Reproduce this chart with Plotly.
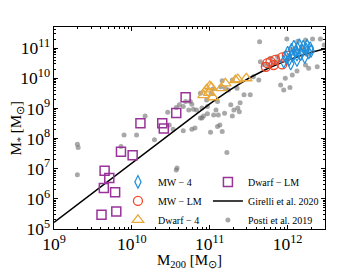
import plotly.graph_objects as go

# ---------------- data (log10 values) ----------------
dwarf_lm_mh = [9.61, 9.80, 9.64, 9.785, 9.65, 9.71, 9.86, 10.01, 10.11, 10.39, 10.41, 10.57, 10.69]
dwarf_lm_ms = [5.47, 5.58, 6.36, 6.22, 6.93, 6.69, 7.56, 7.45, 8.51, 8.51, 8.33, 8.85, 9.37]

dwarf4_mh = [10.92, 10.96, 11.00, 11.02, 10.99, 11.04, 11.15, 11.20, 11.33, 11.36, 11.47]
dwarf4_ms = [9.44, 9.63, 9.74, 9.70, 9.52, 9.37, 9.67, 9.83, 9.94, 9.97, 10.00]

mwlm_mh = [11.72, 11.74, 11.82, 11.84, 11.93, 11.93, 11.99, 11.78]
mwlm_ms = [10.38, 10.50, 10.44, 10.61, 10.69, 10.46, 10.75, 10.55]

mw4_mh = [11.95, 11.98, 12.00, 12.02, 12.05, 12.06, 12.08, 12.10, 12.12, 12.13, 12.15,
          12.17, 12.19, 12.20, 12.22, 12.24, 12.25, 12.27, 12.29, 12.30, 12.04, 12.12]
mw4_ms = [10.55, 10.70, 10.85, 10.62, 10.95, 10.75, 11.05, 10.88, 10.60, 10.98, 11.10,
          10.80, 10.92, 11.05, 10.70, 10.95, 11.08, 10.85, 11.00, 10.90, 10.48, 10.78]

posti_mh = [9.30, 9.31, 9.30, 9.86, 9.90, 10.06, 10.17, 10.29, 10.46, 10.57, 10.61, 10.66,
            10.69, 10.73, 10.75, 10.77, 10.79, 10.83, 10.48, 10.53, 10.66, 10.77, 10.81,
            10.88, 10.90, 10.92, 10.97, 11.01, 10.97, 11.10, 11.08, 11.10, 11.13, 11.16,
            11.22, 11.27, 11.29, 11.31, 11.36, 11.38, 11.39, 11.24, 11.29, 11.35, 11.16,
            11.14, 10.58, 11.05, 11.11, 11.19, 10.90, 10.96, 11.02, 11.04, 10.88, 10.57,
            11.64, 11.99, 12.13, 12.23, 12.32, 12.42, 12.47, 11.56, 11.63, 11.69, 11.78,
            11.87, 11.82, 11.91, 12.03, 11.97, 12.06, 12.12, 12.27, 12.38, 12.23, 12.17,
            11.52, 11.44, 11.20, 11.95, 12.10, 12.18, 12.25, 12.05, 11.85, 11.75, 11.65]
posti_ms = [7.81, 7.70, 6.80, 7.74, 8.12, 8.12, 8.75, 7.96, 8.87, 9.03, 9.12, 9.06,
            9.23, 8.95, 9.23, 9.14, 8.97, 8.95, 8.45, 8.31, 8.26, 8.31, 8.35,
            8.68, 8.68, 8.75, 8.82, 8.21, 9.06, 9.23, 8.95, 8.40, 8.45, 8.23,
            7.54, 9.12, 8.75, 8.95, 9.01, 8.89, 9.19, 9.61, 9.94, 9.67, 9.92,
            9.72, 7.02, 8.78, 8.78, 8.84, 9.01, 9.28, 9.50, 9.64, 9.50, 6.96,
            11.21, 11.30, 11.23, 11.27, 11.30, 11.30, 11.10, 10.05, 9.94, 10.46, 10.66,
            10.72, 10.50, 9.78, 9.69, 10.00, 10.11, 10.24, 10.33, 10.38, 10.44, 10.94,
            9.45, 9.45, 9.67, 9.61, 10.85, 11.00, 10.80, 10.95, 10.55, 10.45, 10.55]

girelli_mh = [9.0, 9.5, 10.0, 10.5, 11.0, 11.25, 11.5, 11.75, 12.0, 12.25, 12.48]
girelli_ms = [5.22, 6.20, 7.18, 8.18, 9.15, 9.60, 10.00, 10.33, 10.60, 10.82, 10.98]

x_title = "M<sub>200</sub> [M<sub>⊙</sub>]"
y_title = "M<sub>*</sub> [M<sub>⊙</sub>]"


def lin(v):
    return [10 ** a for a in v]


FONT = "Liberation Serif"
fig = go.Figure()

fig.add_trace(go.Scatter(x=lin(posti_mh), y=lin(posti_ms), mode="markers",
                         name="Posti et al. 2019", legend="legend2", legendrank=3,
                         marker=dict(size=5, color="rgba(115,115,115,0.62)", line=dict(width=0))))
fig.add_trace(go.Scatter(x=lin(girelli_mh), y=lin(girelli_ms), mode="lines",
                         name="Girelli et al. 2020", legend="legend2", legendrank=2,
                         line=dict(color="black", width=1.5)))
fig.add_trace(go.Scatter(x=lin(dwarf_lm_mh), y=lin(dwarf_lm_ms), mode="markers",
                         name="Dwarf − LM", legend="legend2", legendrank=1,
                         marker=dict(symbol="square-open", size=9, color="#993399",
                                     line=dict(width=1.5))))
fig.add_trace(go.Scatter(x=lin(dwarf4_mh), y=lin(dwarf4_ms), mode="markers",
                         name="Dwarf − 4", legend="legend", legendrank=3,
                         marker=dict(symbol="triangle-up-open", size=10, color="#E8A93A",
                                     line=dict(width=1.3))))
fig.add_trace(go.Scatter(x=lin(mwlm_mh), y=lin(mwlm_ms), mode="markers",
                         name="MW − LM", legend="legend", legendrank=2,
                         marker=dict(symbol="circle-open", size=9, color="#F0462A",
                                     line=dict(width=1.3))))
fig.add_trace(go.Scatter(x=lin(mw4_mh), y=lin(mw4_ms), mode="markers",
                         name="MW − 4", legend="legend", legendrank=1,
                         marker=dict(symbol="diamond-tall-open", size=9, color="#1E8FDC",
                                     line=dict(width=1.2))))

axis_common = dict(
    type="log", dtick=1, exponentformat="power", showgrid=False, zeroline=False,
    showline=True, linecolor="black", linewidth=1.2, mirror="allticks",
    ticks="inside", ticklen=4, tickcolor="black", tickwidth=1, automargin=False,
    tickfont=dict(family=FONT, size=14, color="black"),
    minor=dict(ticks="inside", ticklen=2, tickcolor="black", dtick="D1", showgrid=False),
)

# the page body has an 8 px margin, so the figure is 8 px smaller and margins are shifted
fig.update_layout(
    width=335, height=262,
    margin=dict(l=46, r=18, t=19, b=41),
    paper_bgcolor="white", plot_bgcolor="white",
    font=dict(family=FONT, color="black"),
    xaxis=dict(axis_common, range=[9, 12.48],
               title=dict(text=x_title, font=dict(family=FONT, size=15))),
    yaxis=dict(axis_common, range=[5, 11.7]),
    legend=dict(x=0.236, y=0.305, xanchor="left", yanchor="top", bgcolor="rgba(0,0,0,0)",
                font=dict(family=FONT, size=10), itemwidth=30, tracegroupgap=0),
    legend2=dict(x=0.568, y=0.305, xanchor="left", yanchor="top", bgcolor="rgba(0,0,0,0)",
                 font=dict(family=FONT, size=10), itemwidth=30, tracegroupgap=0),
    showlegend=True,
    annotations=[dict(text=y_title, textangle=-90, xref="paper", yref="paper",
                      x=-0.138, y=0.5, xanchor="center", yanchor="middle",
                      showarrow=False, font=dict(family=FONT, size=15, color="black"))],
)

fig.write_html("out.html")
